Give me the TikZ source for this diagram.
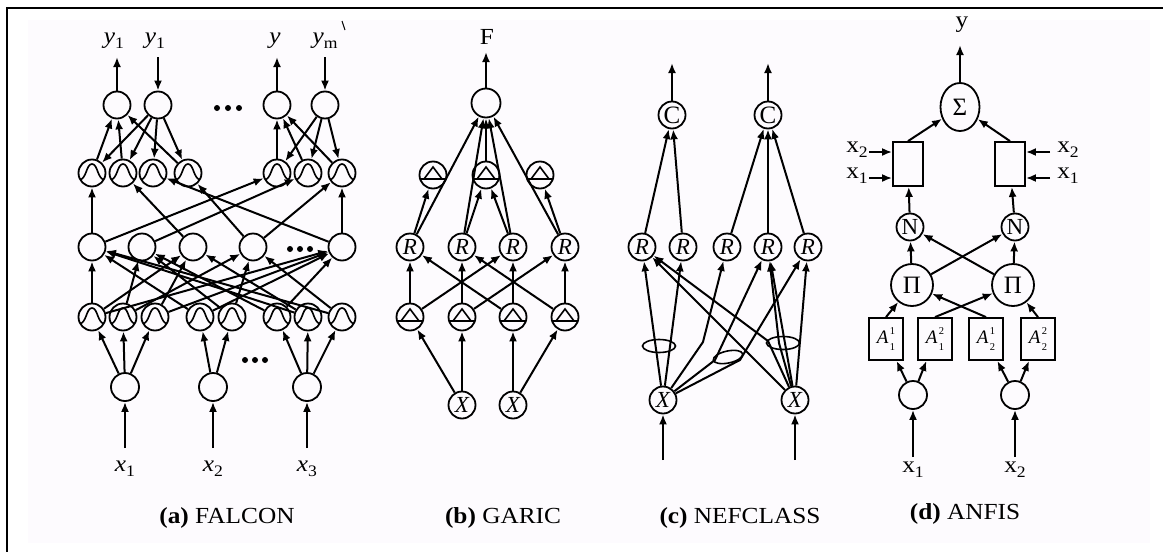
\documentclass[tikz,border=0pt]{standalone}
\usepackage{fontspec}
\setmainfont{Liberation Serif}
\usetikzlibrary{arrows.meta,shapes.geometric}
\definecolor{panelbg}{RGB}{253,251,254}
\newcommand{\lbsz}{\fontsize{23}{23}\selectfont}
\newcommand{\subsz}{\fontsize{16}{16}\selectfont}
\newcommand{\capsz}{\fontsize{23}{23}\selectfont}
\newcommand{\wide}[1]{\scalebox{1.1}[1]{#1}}
\newcommand{\vsub}[2]{\wide{{\lbsz\itshape #1}\raisebox{-5pt}{\subsz #2}}}
\newcommand{\rsub}[2]{\wide{{\lbsz #1}\raisebox{-5pt}{\subsz #2}}}
\newcommand{\Aij}[2]{{\fontsize{19}{19}\selectfont\itshape A}\hspace{1.5pt}\makebox[0pt][l]{\raisebox{9.5pt}{\fontsize{10.5}{10.5}\selectfont #2}}\raisebox{-7pt}{\fontsize{10.5}{10.5}\selectfont #1}}
\begin{document}
\begin{tikzpicture}[x=1pt,y=-1pt,
  nd/.style={circle,draw,line width=1.8pt,minimum size=27pt,inner sep=0pt,font=\lbsz},
  gs/.style={nd,path picture={\draw[line width=1.6pt,shift={(path picture bounding box.center)}]
     (-13pt,-7pt) .. controls (-5pt,-6pt) and (-6pt,9pt) .. (0pt,9pt) .. controls (6pt,9pt) and (5pt,-6pt) .. (13pt,-7pt);}},
  tr/.style={nd,path picture={\draw[line width=1.6pt,shift={(path picture bounding box.center)}]
     (-15pt,-4pt) -- (15pt,-4pt) (-9pt,-4pt) -- (0pt,8pt) -- (9pt,-4pt);}},
  bx/.style={rectangle,draw,line width=1.8pt,minimum width=34pt,minimum height=42pt,inner sep=0pt},
  ov/.style={ellipse,draw,line width=1.6pt,minimum width=33pt,minimum height=13pt,inner sep=0pt},
  ar/.style={-{Latex[length=10pt,width=8pt]},line width=2pt},
  lab/.style={inner sep=0pt,font=\lbsz},
  captxt/.style={inner sep=0pt,font=\capsz},
  dotn/.style={circle,fill,inner sep=0pt,minimum size=6pt}]
\useasboundingbox (0,0) rectangle (1163,552);
\fill[panelbg] (28,20) rectangle (1150,543);
\draw[line width=2.5pt] (7,552) -- (7,8) -- (1163,8);

% ================= (a) FALCON =================
\node[nd] (ao1) at (117,105) {};
\node[nd] (ao2) at (158,105) {};
\node[nd] (ao3) at (277,105) {};
\node[nd] (ao4) at (325,105) {};
\coordinate (ay1) at (117,57);
\coordinate (ay2) at (158,57);
\coordinate (ay3) at (277,57);
\coordinate (ay4) at (325,57);
\draw[ar] (ao1) -- (ay1);
\draw[ar] (ay2) -- (ao2);
\draw[ar] (ao3) -- (ay3);
\draw[ar] (ay4) -- (ao4);
\node[lab] (lay1) at (114,41) {\vsub{y}{1}};
\node[lab] (lay2) at (155,41) {\vsub{y}{1}};
\node[lab] (lay3) at (275,41) {\wide{\itshape y}};
\node[lab] (lay4) at (325,41) {\vsub{y}{m}};
\draw[line width=1pt] (342,21) -- (345,30);
\node[dotn] (ad1) at (217,108) {};
\node[dotn] (ad2) at (228,108) {};
\node[dotn] (ad3) at (239,108) {};

\foreach \n/\x in {1/92,2/123,3/153,4/188,5/277,6/308,7/342}
  \node[gs] (at\n) at (\x,173) {};
\foreach \n/\x in {1/92,2/142,3/193,4/253,5/342}
  \node[nd] (ar\n) at (\x,247) {};
\node[dotn] (ad4) at (290,249) {};
\node[dotn] (ad5) at (300,249) {};
\node[dotn] (ad6) at (310,249) {};
\foreach \n/\x in {1/92,2/123,3/155,4/200,5/232,6/277,7/308,8/342}
  \node[gs] (ab\n) at (\x,317) {};
\foreach \n/\x in {1/125,2/213,3/307}
  \node[nd,minimum size=28pt] (ai\n) at (\x,387) {};
\node[dotn] (ad7) at (245,360) {};
\node[dotn] (ad8) at (255,360) {};
\node[dotn] (ad9) at (265,360) {};

% top MF -> outputs
\foreach \a/\b in {at1/ao1,at2/ao1,at4/ao1,ao2/at1,ao2/at2,ao2/at3,ao2/at4,
                   at5/ao3,at6/ao3,at7/ao3,ao4/at5,ao4/at6,ao4/at7}
  \draw[ar] (\a) -- (\b);
% rules -> top MF
\foreach \a/\b in {ar1/at1,ar1/at5,ar2/at6,ar3/at2,ar4/at4,ar4/at7,ar5/at7,ar5/at3}
  \draw[ar] (\a) -- (\b);
% bottom MF -> rules
\foreach \a/\b in {ab1/ar1,ab1/ar3,ab1/ar5,ab2/ar2,ab2/ar4,ab3/ar3,ab3/ar5,ab4/ar1,ab4/ar5,
                   ab5/ar2,ab5/ar4,ab6/ar2,ab6/ar5,ab7/ar3,ab7/ar1,ab8/ar4,ab8/ar1}
  \draw[ar] (\a) -- (\b);
% inputs -> bottom MF
\foreach \a/\b in {ai1/ab1,ai1/ab2,ai1/ab3,ai2/ab4,ai2/ab5,ai3/ab6,ai3/ab7,ai3/ab8}
  \draw[ar] (\a) -- (\b);
\foreach \n/\x in {1/125,2/213,3/307}{
  \coordinate (ax\n) at (\x,448);
  \draw[ar] (ax\n) -- (ai\n);
  \node[lab] (lax\n) at (\x,469) {\vsub{x}{\n}};}
\node[captxt] (capa) at (227,518) {\wide{\textbf{(a)} FALCON}};

% ================= (b) GARIC =================
\node[nd,minimum size=29pt] (gF) at (486,103) {};
\coordinate (gFo) at (486,52);
\draw[ar] (gF) -- (gFo);
\node[lab] (lgF) at (487,37) {\wide{F}};
\foreach \n/\x in {1/433,2/486,3/540}
  \node[tr] (gT\n) at (\x,175) {};
\foreach \n/\x in {1/410,2/462,3/513,4/565}
  \node[nd] (gR\n) at (\x,247) {\itshape R};
\foreach \n/\x in {1/410,2/462,3/513,4/565}
  \node[tr] (gL\n) at (\x,317) {};
\node[nd] (gX1) at (462,405) {\itshape X};
\node[nd] (gX2) at (513,405) {\itshape X};
\foreach \a/\b in {gR1/gF,gR2/gF,gR3/gF,gR4/gF,gT2/gF,
                   gR1/gT1,gR2/gT2,gR3/gT2,gR4/gT3,
                   gL1/gR1,gL1/gR3,gL2/gR2,gL2/gR4,gL3/gR3,gL3/gR1,gL4/gR4,gL4/gR2,
                   gX1/gL1,gX1/gL2,gX2/gL3,gX2/gL4}
  \draw[ar] (\a) -- (\b);
\node[captxt] (capb) at (503,518) {\wide{\textbf{(b)} GARIC}};

% ================= (c) NEFCLASS =================
\node[nd,font=\fontsize{25}{25}\selectfont] (nC1) at (672,115) {C};
\node[nd,font=\fontsize{25}{25}\selectfont] (nC2) at (768,115) {C};
\coordinate (nO1) at (672,63);
\coordinate (nO2) at (768,63);
\draw[ar] (nC1) -- (nO1);
\draw[ar] (nC2) -- (nO2);
\foreach \n/\x in {1/642,2/683,3/727,4/768,5/808}
  \node[nd] (nR\n) at (\x,247) {\itshape R};
\node[nd] (nX1) at (663,400) {\itshape X};
\node[nd] (nX2) at (795,400) {\itshape X};
\coordinate (nI1) at (663,460);
\coordinate (nI2) at (795,460);
\draw[ar] (nI1) -- (nX1);
\draw[ar] (nI2) -- (nX2);
\foreach \a/\b in {nR1/nC1,nR2/nC1,nR3/nC2,nR4/nC2,nR5/nC2}
  \draw[ar] (\a) -- (\b);
\coordinate (nk1) at (703,342);
\coordinate (nk2) at (715,360);
\coordinate (nk3) at (740,360);
\coordinate (nk4) at (768,341);
\coordinate (nk5) at (779,343);
\draw[ar] (nX1) -- (nR1);
\draw[ar] (nX1) -- (nR2);
\draw[ar] (nX1) -- (nk1) -- (nR3);
\draw[ar] (nX1) -- (nk2) -- (nR4);
\draw[ar] (nX1) -- (nk3) -- (nR5);
\draw[ar] (nX2) -- (nR1);
\draw[ar] (nX2) -- (nk4) -- (nR1);
\draw[ar] (nX2) -- (nR4);
\draw[ar] (nX2) -- (nk5) -- (nR4);
\draw[ar] (nX2) -- (nR5);
\node[ov] (ne1) at (659,346) {};
\node[ov,minimum width=30pt,minimum height=12pt,rotate=12] (ne2) at (728,357) {};
\node[ov] (ne3) at (783,343) {};
\node[captxt] (capc) at (740,518) {\wide{\textbf{(c)} NEFCLASS}};

% ================= (d) ANFIS =================
\node[ellipse,draw,line width=1.8pt,minimum width=39pt,minimum height=48pt,inner sep=0pt,font=\fontsize{25}{25}\selectfont] (dS) at (960,107) {Σ};
\coordinate (dO) at (960,45);
\draw[ar] (dS) -- (dO);
\node[lab] (ldy) at (962,25) {\wide{y}};
\node[bx,minimum width=30pt,minimum height=44pt] (dB1) at (908,164) {};
\node[bx,minimum width=30pt,minimum height=44pt] (dB2) at (1010,164) {};
\draw[ar] (dB1.north) -- (dS);
\draw[ar] (dB2.north) -- (dS);
\node[lab] (dl12) at (857,150) {\rsub{x}{2}};
\node[lab] (dl11) at (857,176) {\rsub{x}{1}};
\node[lab] (dl22) at (1068,150) {\rsub{x}{2}};
\node[lab] (dl21) at (1068,176) {\rsub{x}{1}};
\coordinate (dc12) at (869,152);
\coordinate (dc11) at (869,178);
\coordinate (dc22) at (1050,152);
\coordinate (dc21) at (1050,178);
\draw[ar] (dc12) -- (dc12 -| dB1.west);
\draw[ar] (dc11) -- (dc11 -| dB1.west);
\draw[ar] (dc22) -- (dc22 -| dB2.east);
\draw[ar] (dc21) -- (dc21 -| dB2.east);
\node[nd] (dN1) at (910,227) {N};
\node[nd] (dN2) at (1015,227) {N};
\draw[ar] (dN1) -- (dB1);
\draw[ar] (dN2) -- (dB2);
\node[nd,minimum size=42pt,font=\fontsize{25}{25}\selectfont] (dP1) at (912,285) {Π};
\node[nd,minimum size=42pt,font=\fontsize{25}{25}\selectfont] (dP2) at (1013,285) {Π};
\draw[ar] (dP1) -- (dN1);
\draw[ar] (dP1) -- (dN2);
\draw[ar] (dP2) -- (dN2);
\draw[ar] (dP2) -- (dN1);
\node[bx] (dA1) at (886,339) {\Aij{1}{1}};
\node[bx] (dA2) at (935,339) {\Aij{1}{2}};
\node[bx] (dA3) at (986,339) {\Aij{2}{1}};
\node[bx] (dA4) at (1038,339) {\Aij{2}{2}};
\draw[ar] (dA1.north) -- (dP1);
\draw[ar] (dA2.north) -- (dP2);
\draw[ar] (dA3.north) -- (dP1);
\draw[ar] (dA4.north) -- (dP2);
\node[nd,minimum size=28pt] (dI1) at (913,395) {};
\node[nd,minimum size=28pt] (dI2) at (1015,395) {};
\draw[ar] (dI1) -- (dA1);
\draw[ar] (dI1) -- (dA2);
\draw[ar] (dI2) -- (dA3);
\draw[ar] (dI2) -- (dA4);
\coordinate (dx1) at (913,457);
\coordinate (dx2) at (1015,457);
\draw[ar] (dx1) -- (dI1);
\draw[ar] (dx2) -- (dI2);
\node[lab] (ldx1) at (913,470) {\rsub{x}{1}};
\node[lab] (ldx2) at (1015,470) {\rsub{x}{2}};
\node[captxt] (capd) at (965,514) {\wide{\textbf{(d)} ANFIS}};
\end{tikzpicture}
\end{document}
